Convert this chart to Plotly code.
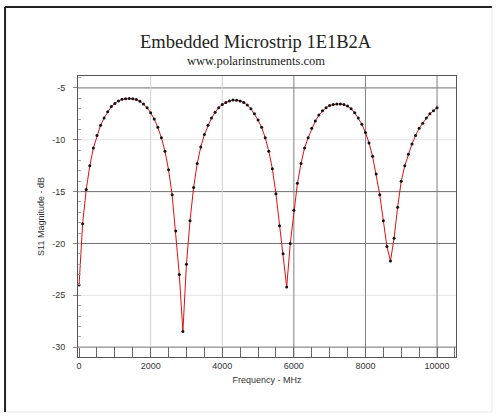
import plotly.graph_objects as go

freq_mhz = [i * 100 for i in range(101)]
s11_db = [
    -24.0, -18.1, -14.8, -12.5, -10.8, -9.6, -8.6, -7.9, -7.3, -6.8,
    -6.5, -6.25, -6.1, -6.04, -6.02, -6.05, -6.12, -6.28, -6.55, -6.9,
    -7.4, -8.0, -8.8, -9.8, -11.1, -12.9, -15.3, -18.8, -23.0, -28.5,
    -22.0, -17.8, -14.6, -12.3, -10.7, -9.5, -8.6, -7.9, -7.35, -6.9,
    -6.6, -6.4, -6.25, -6.17, -6.18, -6.25, -6.4, -6.65, -7.0, -7.5,
    -8.1, -8.8, -9.8, -11.1, -12.8, -15.2, -18.3, -21.0, -24.2, -20.0,
    -16.8, -14.2, -12.3, -10.8, -9.8, -8.9, -8.2, -7.6, -7.2, -6.9,
    -6.7, -6.6, -6.55, -6.55, -6.6, -6.75, -7.0, -7.4, -7.9, -8.5,
    -9.3, -10.3, -11.6, -13.3, -15.3, -17.8, -20.3, -21.7, -19.5, -16.5,
    -14.0, -12.5, -11.4, -10.4, -9.6, -8.9, -8.4, -7.9, -7.5, -7.2,
    -6.9,
]
x_ticks = [0, 2000, 4000, 6000, 8000, 10000]
y_ticks = [-5, -10, -15, -20, -25, -30]
dark_h = [-5, -15, -20, -30]
light_h = [-10, -25]
dark_v = [6000, 8000, 10000]
light_v = [2000, 4000]

title = "Embedded Microstrip 1E1B2A"
subtitle = "www.polarinstruments.com"

fig = go.Figure()
fig.add_trace(go.Scatter(
    x=freq_mhz, y=s11_db, mode="lines+markers",
    line=dict(color="#e01010", width=1),
    marker=dict(color="#111111", size=3),
    showlegend=False,
))

for v in dark_h:
    fig.add_hline(y=v, line=dict(color="#707070", width=1), layer="below")
for v in light_h:
    fig.add_hline(y=v, line=dict(color="#e4e4e4", width=1), layer="below")
for v in dark_v:
    fig.add_vline(x=v, line=dict(color="#808080", width=1), layer="below")
for v in light_v:
    fig.add_vline(x=v, line=dict(color="#d0d0d0", width=1), layer="below")

# outer frame (dark top/left, faint right/bottom)
fx0, fx1, fy0, fy1 = -0.193, 1.095, -0.196, 1.2456
fig.add_shape(type="line", xref="paper", yref="paper", x0=fx1, x1=fx1,
              y0=fy0, y1=fy1, line=dict(color="#e6e6e6", width=1))
fig.add_shape(type="line", xref="paper", yref="paper", x0=fx0, x1=fx1,
              y0=fy0, y1=fy0, line=dict(color="#e6e6e6", width=1))
fig.add_shape(type="line", xref="paper", yref="paper", x0=fx0, x1=fx0,
              y0=fy0, y1=fy1, line=dict(color="#222222", width=2))
fig.add_shape(type="line", xref="paper", yref="paper", x0=fx0, x1=fx1,
              y0=fy1, y1=fy1, line=dict(color="#222222", width=2))

fig.add_annotation(text=title, xref="paper", yref="paper", x=0.471, y=1.121,
                   xanchor="center", yanchor="middle", showarrow=False,
                   font=dict(family="Liberation Serif", size=18.5, color="#222222"))
fig.add_annotation(text=subtitle, xref="paper", yref="paper", x=0.471, y=1.053,
                   xanchor="center", yanchor="middle", showarrow=False,
                   font=dict(family="Liberation Serif", size=12.5, color="#222222"))

fig.update_layout(
    width=497, height=420,
    margin=dict(l=78, r=41, t=76, b=63),
    paper_bgcolor="white", plot_bgcolor="white",
    font=dict(family="Liberation Sans", size=9, color="#333333"),
    xaxis=dict(
        range=[-30, 10530], tickvals=x_ticks, ticktext=[str(v) for v in x_ticks],
        showgrid=False, zeroline=False, showline=True, linecolor="#555555", mirror=True,
        ticks="", automargin=False,
        title=dict(text="Frequency - MHz", font=dict(size=9), standoff=6),
        minor=dict(ticks="inside", dtick=500, tick0=0, ticklen=10, tickcolor="#666666"),
    ),
    yaxis=dict(
        range=[-30.95, -3.85], tickvals=y_ticks, ticktext=[str(v) for v in y_ticks],
        showgrid=False, zeroline=False, showline=True, linecolor="#555555", mirror=True,
        ticks="outside", ticklen=4, tickcolor="#888888", ticklabelstandoff=6,
        automargin=False,
        title=dict(text="S11 Magnitude - dB", font=dict(size=9), standoff=6),
        minor=dict(ticks="inside", dtick=1, ticklen=3, tickcolor="#aaaaaa"),
    ),
)

fig.write_html("out.html", config={"displayModeBar": False},
               post_script="document.body.style.margin='0px';")
